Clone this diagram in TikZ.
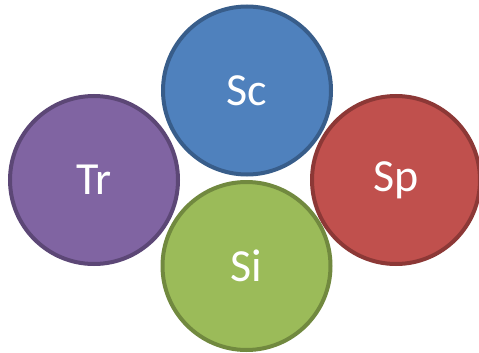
\documentclass[tikz,border=0pt]{standalone}
\usepackage{fontspec}
\setmainfont{Carlito}
\definecolor{bfill}{HTML}{4F81BD}\definecolor{bline}{HTML}{385D8A}
\definecolor{pfill}{HTML}{8064A2}\definecolor{pline}{HTML}{5C4776}
\definecolor{rfill}{HTML}{C0504D}\definecolor{rline}{HTML}{8C3836}
\definecolor{gfill}{HTML}{9BBB59}\definecolor{gline}{HTML}{71893F}
\tikzset{
  ball/.style={circle, minimum size=168pt, inner sep=0pt, line width=4pt, text=white,
    font=\fontsize{46}{50}\selectfont},
}
\begin{document}
\begin{tikzpicture}[x=1pt,y=-1pt]
\useasboundingbox (0,0) rectangle (479,353);
\node[ball, fill=bfill, draw=bline] (sc) at (247,90.5) {Sc};
\node[ball, fill=pfill, draw=pline] (tr) at (94,180) {Tr};
\node[ball, fill=rfill, draw=rline] (sp) at (396,180) {Sp};
\node[ball, fill=gfill, draw=gline] (si) at (246.5,266) {Si};
\end{tikzpicture}
\end{document}
